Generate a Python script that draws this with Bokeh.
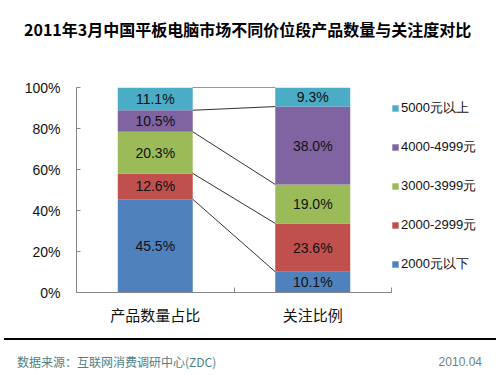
from bokeh.plotting import figure
from bokeh.models import (Range1d, FixedTicker, ColumnDataSource, Legend,
                          LegendItem, Div)
from bokeh.layouts import column
from bokeh.embed import file_html
from bokeh.resources import INLINE
from bokeh.core.properties import value

# ---- data ----
categories = ["产品数量占比", "关注比例"]
series = ["2000元以下", "2000-2999元", "3000-3999元", "4000-4999元", "5000元以上"]
colors = ["#4F81BD", "#C0504D", "#9BBB59", "#8064A2", "#4BACC6"]
product_share = [45.5, 12.6, 20.3, 10.5, 11.1]
attention_share = [10.1, 23.6, 19.0, 38.0, 9.3]
y_ticks = [0, 20, 40, 60, 80, 100]
title_text = "2011年3月中国平板电脑市场不同价位段产品数量与关注度对比"
source_text = "数据来源：互联网消费调研中心(ZDC)"
date_text = "2010.04"

CJK = "Noto Sans CJK SC"

x_pos = [0.5, 1.5]
bar_w = 0.476
n_cat = len(categories)
# frame spans 76..495 px; the category axis occupies 76..391 px
x_end = n_cat * (495 - 76) / (391 - 76)

data = {"x": x_pos}
for i, s in enumerate(series):
    data[s] = [product_share[i], attention_share[i]]
src = ColumnDataSource(data)

p = figure(width=500, height=278, output_backend="svg", toolbar_location=None,
           x_range=Range1d(0, x_end), y_range=Range1d(0, 100),
           min_border_left=76, min_border_right=5, min_border_top=27,
           min_border_bottom=46, margin=0)
p.outline_line_color = None
p.grid.visible = False
p.background_fill_color = "white"
p.border_fill_color = "white"

renderers = p.vbar_stack(series, x="x", width=bar_w, color=colors, source=src,
                         line_color=None)

# segment labels + series lines
cum1, cum2 = 0.0, 0.0
lx, ly, lt = [], [], []
sx0, sy0, sx1, sy1 = [], [], [], []
for i in range(len(series)):
    a, b = product_share[i], attention_share[i]
    lx += [x_pos[0], x_pos[1]]
    ly += [cum1 + a / 2, cum2 + b / 2]
    lt += [f"{a:.1f}%", f"{b:.1f}%"]
    cum1 += a
    cum2 += b
    sx0.append(x_pos[0] + bar_w / 2)
    sy0.append(cum1)
    sx1.append(x_pos[1] - bar_w / 2)
    sy1.append(cum2)

p.segment(x0=sx0, y0=sy0, x1=sx1, y1=sy1, line_color="#1a1a1a", line_width=0.9)
p.text(x=lx, y=ly, text=lt, text_align="center", text_baseline="middle",
       text_font=value("Liberation Sans"), text_font_size="14px", text_color="#111111")

# axes
ya = p.yaxis[0]
ya.ticker = FixedTicker(ticks=y_ticks)
ya.major_label_overrides = {t: f"{t}%" for t in y_ticks}
ya.major_label_text_font = "Liberation Sans"
ya.major_label_text_font_size = "14px"
ya.major_label_text_color = "#111111"
ya.axis_line_color = "#868686"
ya.major_tick_line_color = "#868686"
ya.major_tick_in = 4
ya.major_tick_out = 0
ya.minor_tick_line_color = None
ya.major_label_standoff = 16

xa = p.xaxis[0]
xa.bounds = (0, n_cat)
xa.ticker = FixedTicker(ticks=x_pos, minor_ticks=list(range(n_cat + 1)))
xa.major_label_overrides = {x_pos[i]: categories[i] for i in range(n_cat)}
xa.major_label_text_font = CJK
xa.major_label_text_font_size = "15px"
xa.major_label_text_color = "#111111"
xa.axis_line_color = "#868686"
xa.major_tick_line_color = None
xa.minor_tick_line_color = "#868686"
xa.minor_tick_in = 5
xa.minor_tick_out = 0
xa.major_label_standoff = 5

# legend
items = [LegendItem(label=series[i], renderers=[renderers[i]]) for i in reversed(range(len(series)))]
leg = Legend(items=items, location=(315, 18), orientation="vertical",
             glyph_width=8, glyph_height=8, label_height=20, spacing=19,
             label_standoff=2, padding=0, margin=0,
             border_line_color=None, background_fill_alpha=0,
             label_text_font="Liberation Sans", label_text_font_size="13px",
             label_text_color="#111111")
p.add_layout(leg, "center")

title_div = Div(
    text=(f'<div style="margin:19px 0 0 24px; font-family:\'{CJK}\'; font-weight:bold; '
          f'font-size:16px; line-height:20px; color:#000; white-space:nowrap">{title_text}</div>'),
    width=500, height=60, margin=0)

footer_div = Div(
    text=(f'<div style="margin:0 4px; border-top:2px solid #000; height:36px; '
          f'display:flex; justify-content:space-between; align-items:flex-start; '
          f'padding:14px 14px 0 13px; box-sizing:border-box; font-size:12px; line-height:16px; '
          f'width:492px; white-space:nowrap">'
          f'<span style="font-family:\'{CJK}\'; color:#4d7f86">{source_text}</span>'
          f'<span style="font-family:\'Liberation Sans\'; color:#6a7f86">{date_text}</span></div>'),
    width=500, height=37, margin=0)

layout = column(title_div, p, footer_div, spacing=0, margin=0)

open("out.html", "w").write(file_html(layout, INLINE))
